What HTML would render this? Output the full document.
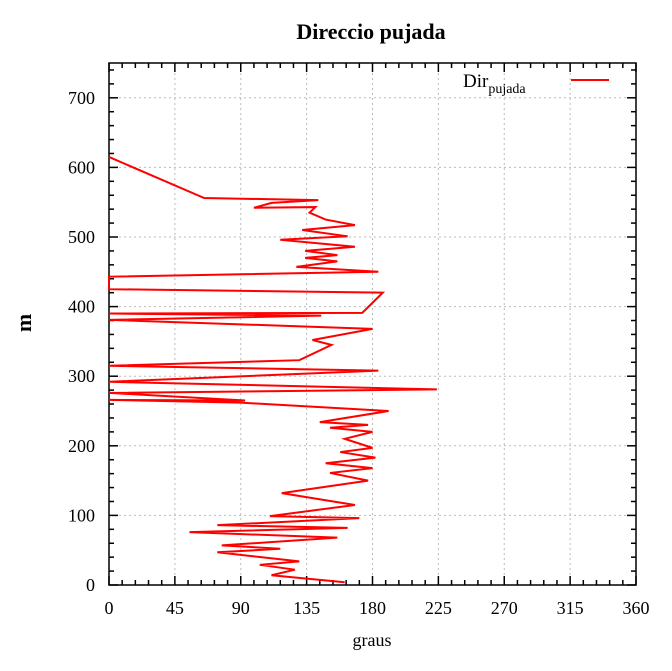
<!DOCTYPE html>
<html><head><meta charset="utf-8"><style>
body{margin:0;background:#fff;}
svg{display:block;font-family:"Liberation Serif",serif;}
</style></head><body>
<svg id="c" width="672" height="671">
<text x="371" y="39" text-anchor="middle" font-size="22" font-weight="bold">Direccio pujada</text>
<text x="372" y="646" text-anchor="middle" font-size="18">graus</text>
<text transform="translate(31,323) rotate(-90)" text-anchor="middle" font-size="22" font-weight="bold">m</text>
<g id="grid"></g><g id="axes"></g><g id="series"></g>
<g>
<text x="463" y="87" font-size="19">Dir<tspan font-size="14" dy="6">pujada</tspan></text>
<line x1="571" y1="80" x2="609" y2="80" stroke="#f00" stroke-width="2"/>
</g>
</svg>
<script>
const xTicks=[0,45,90,135,180,225,270,315,360];
const yTicks=[0,100,200,300,400,500,600,700];
const graus=[161,111,127,103,130,74,117,77,156,55,163,74,171,110,168,118,177,151,180,148,182,158,180,161,180,151,177,144,191,90,0,93,0,224,0,184,0,130,152,139,180,0,145,0,173,187,0,0,184,128,156,134,156,134,168,117,163,132,168,148,137,141,99,111,143,65,0];
const metres=[4,14,22,29,34,47,52,57,68,76,82,86,96,99,115,132,150,161,168,175,183,191,197,210,220,226,230,234,250,262,266,265,276,281,292,308,315,323,345,352,368,381,387,390,391,420,425,443,450,457,465,470,474,480,486,496,501,510,517,525,535,543,542,549,553,556,615];
const L=109,R=636,T=63,B=585;
const X=v=>L+(v-0)/360*(R-L);
const Y=v=>B-v/750*(B-T);
const NS="http://www.w3.org/2000/svg";
function mk(p,t,a){const e=document.createElementNS(NS,t);for(const k in a)e.setAttribute(k,a[k]);p.appendChild(e);return e;}
const grid=document.getElementById('grid'),axes=document.getElementById('axes'),ser=document.getElementById('series');
xTicks.forEach(t=>{
 if(t>0&&t<360){const g=mk(grid,'line',{x1:X(t),x2:X(t),y1:T,y2:B,stroke:'#bbb','stroke-dasharray':'2,3'});
 
 }
 const tx=mk(axes,'text',{x:X(t),y:B+29,'text-anchor':'middle','font-size':18});tx.textContent=t;
 
 
});
for(let v=0;v<=360;v+=9){const big=v%45==0;const l=big?9:5;
 mk(axes,'line',{x1:X(v),x2:X(v),y1:B,y2:B-l,stroke:'#000','stroke-width':1.5});
 mk(axes,'line',{x1:X(v),x2:X(v),y1:T,y2:T+l,stroke:'#000','stroke-width':1.5});}
yTicks.forEach(t=>{
 if(t>0){const g=mk(grid,'line',{x1:L,x2:R,y1:Y(t),y2:Y(t),stroke:'#bbb','stroke-dasharray':'2,3'});
 
 }
 const tx=mk(axes,'text',{x:L-14,y:Y(t)+6,'text-anchor':'end','font-size':18});tx.textContent=t;
 
 
});
for(let v=0;v<=750;v+=20){const big=v%100==0;const l=big?9:5;
 mk(axes,'line',{x1:L,x2:L+l,y1:Y(v),y2:Y(v),stroke:'#000','stroke-width':1.5});
 mk(axes,'line',{x1:R,x2:R-l,y1:Y(v),y2:Y(v),stroke:'#000','stroke-width':1.5});}
const fr=mk(axes,'rect',{x:L,y:T,width:R-L,height:B-T,fill:'none',stroke:'#000','stroke-width':1.5});


const pts=graus.map((g,i)=>X(g)+','+Y(metres[i])).join(' ');
const pl=mk(ser,'polyline',{points:pts,fill:'none',stroke:'#f00','stroke-width':2,'stroke-linejoin':'miter'});


</script>
</body></html>
